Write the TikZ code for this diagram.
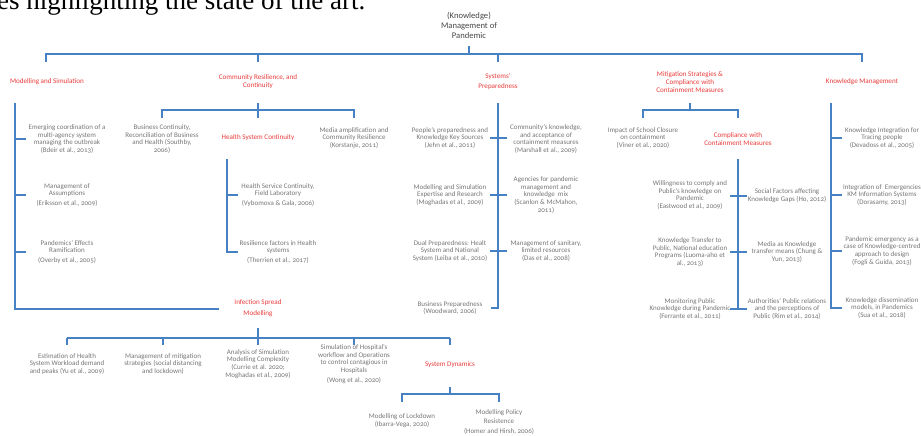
\documentclass[tikz,border=0pt]{standalone}
\usepackage{fontspec}
\setmainfont{Carlito}[Numbers=OldStyle]
\newfontfamily\headfont{Liberation Serif}
\usetikzlibrary{positioning}
\definecolor{linkblue}{RGB}{70,130,195}
\definecolor{catred}{RGB}{232,58,58}
\definecolor{leafgray}{RGB}{118,118,118}
\definecolor{rootgray}{RGB}{70,70,70}

\begin{document}
\begin{tikzpicture}[x=1pt,y=-1pt,
	leaf/.style={align=center, inner sep=0pt, text=leafgray, font=\fontsize{7}{7.7}\selectfont},
	cat/.style={align=center, inner sep=0pt, text=catred, font=\fontsize{7.1}{7.9}\selectfont},
	link/.style={draw=linkblue, line width=1.1pt}]
	\useasboundingbox (0,0) rectangle (921,436);
	\clip (0,0) rectangle (921,436);

	% cut-off line of the page above
	\node[anchor=base west, inner sep=0pt, font=\headfont\fontsize{27}{30}\selectfont] (pagetext) at (-3,9.5) {es highlighting the state of the art.};

	% root and first level
	\node[align=center, inner sep=0pt, text=rootgray, font=\fontsize{8.6}{10}\selectfont] (root) at (469,25) {(Knowledge)\\Management of\\Pandemic};
	\node[cat] (ms)  at (47,82)  {Modelling and Simulation};
	\node[cat] (cr)  at (258,82) {Community Resilience, and\\Continuity};
	\node[cat] (sp)  at (498,82) {Systems'\\[2pt]Preparedness};
	\node[cat] (mit) at (690,82) {Mitigation Strategies \&\\Compliance with\\Containment Measures};
	\node[cat] (km)  at (862,82) {Knowledge Management};

	% Modelling and Simulation
	\node[leaf] (ms1) at (67,139) {Emerging coordination of a\\multi-agency system\\managing the outbreak\\(Bdeir et al., 2013)};
	\node[leaf] (ms2) at (67,195) {Management of\\Assumptions\\[2pt](Eriksson et al., 2009)};
	\node[leaf] (ms3) at (67,252) {Pandemics' Effects\\Ramification\\[2pt](Overby et al., 2005)};

	% Community Resilience
	\node[leaf] (cr1) at (162,139) {Business Continuity,\\Reconciliation of Business\\and Health (Southby,\\2006)};
	\node[cat]  (hsc) at (258,138) {Health System Continuity};
	\node[leaf] (cr3) at (354,138) {Media amplification and\\Community Resilience\\(Korstanje, 2011)};
	\node[leaf] (hs1) at (278,195) {Health Service Continuity,\\Field Laboratory\\[2pt](Vybomova \& Gala, 2006)};
	\node[leaf] (hs2) at (278,252) {Resilience factors in Health\\systems\\[2pt](Therrien et al., 2017)};

	% Systems' Preparedness
	\node[leaf] (sp1) at (450,138) {People's preparedness and\\Knowledge Key Sources\\(Jehn et al., 2011)};
	\node[leaf] (sp2) at (450,195) {Modelling and Simulation\\Expertise and Research\\(Moghadas et al., 2009)};
	\node[leaf] (sp3) at (450,251) {Dual Preparedness: Healt\\System and National\\System (Leiba et al., 2010)};
	\node[leaf] (sp4) at (450,308) {Business Preparedness\\(Woodward, 2006)};
	\node[leaf] (sp5) at (546,139) {Community's knowledge,\\and acceptance of\\containment measures\\(Marshall et al., 2009)};
	\node[leaf] (sp6) at (546,195) {Agencies for pandemic\\management and\\knowledge\ \ mix\\(Scanlon \& McMahon,\\2011)};
	\node[leaf] (sp7) at (546,251) {Management of sanitary,\\limited resources\\(Das et al., 2008)};

	% Mitigation Strategies
	\node[leaf] (mc1) at (643,138) {Impact of School Closure\\on containment\\(Viner et al., 2020)};
	\node[cat]  (cmp) at (738,139) {Compliance with\\Containment Measures};
	\node[leaf] (mc2) at (690,195) {Willingness to comply and\\Public's knowledge on\\Pandemic\\(Eastwood et al., 2009)};
	\node[leaf] (mc3) at (690,252) {Knowledge Transfer to\\Public, National education\\Programs (Luoma-aho et\\al., 2013)};
	\node[leaf] (mc4) at (690,309) {Monitoring Public\\Knowledge during Pandemic\\(Ferrante et al., 2011)};
	\node[leaf] (mc5) at (787,196) {Social Factors affecting\\Knowledge Gaps (Ho, 2012)};
	\node[leaf] (mc6) at (787,252) {Media as Knowledge\\transfer means (Chung \&\\Yun, 2013)};
	\node[leaf] (mc7) at (787,309) {Authorities' Public relations\\and the perceptions of\\Public (Rim et al., 2014)};

	% Knowledge Management
	\node[leaf] (km1) at (882,138) {Knowledge Integration for\\Tracing people\\(Devadoss et al., 2005)};
	\node[leaf] (km2) at (882,195) {Integration of\ \ Emergencies\\KM Information Systems\\(Dorasamy, 2013)};
	\node[leaf] (km3) at (882,251) {Pandemic emergency as a\\case of Knowledge-centred\\approach to design\\(Fogli \& Guida, 2013)};
	\node[leaf] (km4) at (882,308) {Knowledge dissemination\\models, in Pandemics\\(Sua et al., 2018)};

	% Infection Spread Modelling
	\node[cat]  (isp) at (258,308) {Infection Spread\\[3pt]Modelling};
	\node[leaf] (is1) at (67,364)  {Estimation of Health\\System Workload demand\\and peaks (Yu et al., 2009)};
	\node[leaf] (is2) at (163,364) {Management of mitigation\\strategies (social distancing\\and lockdown)};
	\node[leaf] (is3) at (258,364) {Analysis of Simulation\\Modelling Complexity\\(Currie et al. 2020;\\Moghadas et al., 2009)};
	\node[leaf] (is4) at (354,364) {Simulation of Hospital's\\workflow and Operations\\to control contagious in\\Hospitals\\[2pt](Wong et al., 2020)};
	\node[cat]  (sd)  at (450,365) {System Dynamics};
	\node[leaf] (sd1) at (402,421) {Modelling of Lockdown\\(Ibarra-Vega, 2020)};
	\node[leaf] (sd2) at (499,422) {Modelling Policy\\[2pt]Resistence\\[2pt](Homer and Hirsh, 2006)};

	% junction points
	\coordinate (rootstem) at (469,46);
	\coordinate (barW)     at (46,54);
	\coordinate (barE)     at (862,54);
	\coordinate (msspine)  at (15,103);
	\coordinate (mscorner) at (219,309);
	\coordinate (crbar)    at (258,110);
	\coordinate (hstop)    at (227,159);
	\coordinate (sptop)    at (498,103);
	\coordinate (mitbar)   at (690,110);
	\coordinate (cmptop)   at (738,159);
	\coordinate (kmtop)    at (831,103);
	\coordinate (isbar)    at (258,338);
	\coordinate (sdbar)    at (450,394);

	% connectors
	\draw[link] (rootstem) -- (rootstem |- barW);
	\draw[link] (barW) ++(0,8) -- (barW) -- (barE) -- ++(0,8);
	\foreach \c in {cr,sp}
		\draw[link] (\c |- barW) -- ++(0,8);

	\draw[link] (msspine) |- (mscorner);
	\foreach \l in {ms1,ms2,ms3}
		\draw[link] (msspine |- \l) -- ++(11,0);

	\draw[link] (crbar) ++(0,-7) -- (crbar) -- ++(0,8);
	\draw[link] (cr1 |- crbar) ++(0,8) -- (cr1 |- crbar) -- (cr3 |- crbar) -- ++(0,8);
	\draw[link] (hstop) -- (hstop |- hs2) -- ++(11,0);
	\draw[link] (hstop |- hs1) -- ++(11,0);

	\draw[link] (sptop) -- (sptop |- sp4) -- ++(-7,0);
	\foreach \l in {sp1,sp2,sp3}
		\draw[link] (sptop |- \l) ++(-8,0) -- ++(17,0);

	\draw[link] (mitbar) ++(0,-7) -- (mitbar);
	\draw[link] (mc1 |- mitbar) ++(0,8) -- (mc1 |- mitbar) -- (cmp |- mitbar) -- ++(0,8);
	\draw[link] (cmptop) -- (cmptop |- mc7);
	\foreach \l in {mc5,mc6,mc7}
		\draw[link] (cmptop |- \l) ++(-8,0) -- ++(17,0);

	\draw[link] (kmtop) -- (kmtop |- km4) -- ++(11,0);
	\foreach \l in {km1,km2,km3}
		\draw[link] (kmtop |- \l) -- ++(11,0);

	\draw[link] (isbar) ++(0,-10) -- (isbar);
	\draw[link] (is1 |- isbar) -- (sd |- isbar);
	\foreach \l in {is1,is2,is3,is4,sd}
		\draw[link] (\l |- isbar) -- ++(0,7);

	\draw[link] (sdbar) ++(0,-7) -- (sdbar);
	\draw[link] (sd1 |- sdbar) ++(0,8) -- (sd1 |- sdbar) -- (sd2 |- sdbar) -- ++(0,8);
\end{tikzpicture}
\end{document}
